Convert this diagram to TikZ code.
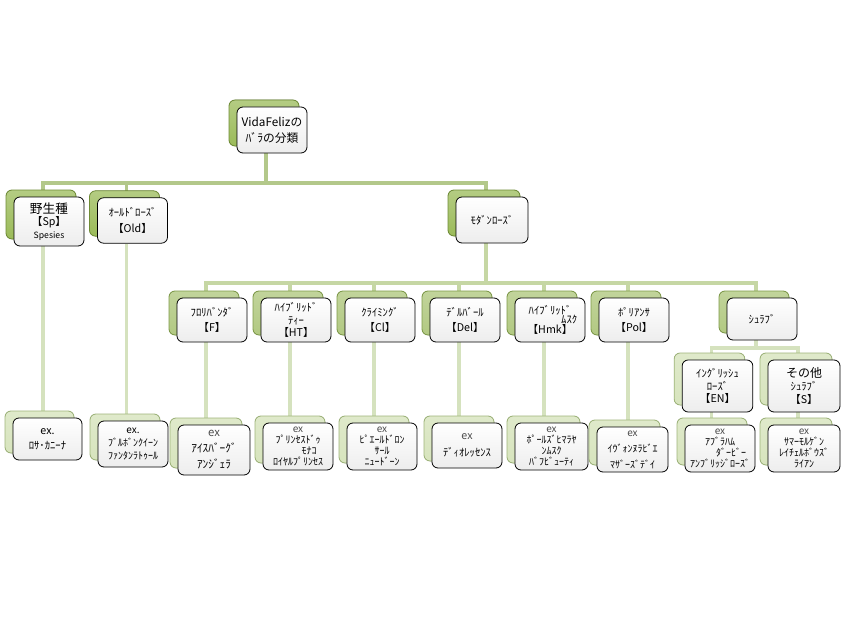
\documentclass[tikz,border=0pt]{standalone}
\usepackage{fontspec}
\setmainfont{Noto Sans CJK JP}
\usepackage{tikz}
\usetikzlibrary{shadows,backgrounds}

\definecolor{oliveA}{HTML}{9BBB59}
\definecolor{oliveAd}{HTML}{6F8C36}
\definecolor{oliveB}{HTML}{B2C982}
\definecolor{oliveBd}{HTML}{7E9A48}
\definecolor{oliveC}{HTML}{D7E4BD}
\definecolor{oliveCd}{HTML}{9FB57A}
\definecolor{linkA}{HTML}{B3C88A}
\definecolor{linkB}{HTML}{C6D7A4}
\definecolor{linkC}{HTML}{D5E2BE}

\tikzset{
  rosebox/.style={draw=black, line width=0.6pt, rounded corners=4.5pt,
    top color=white, bottom color=black!7, minimum width=52.5pt,
    minimum height=33pt, inner sep=1pt, align=center, text=black,
    font=\fontsize{8}{9.5}\selectfont},
  tierA/.style={rosebox, copy shadow={shadow xshift=-6pt, shadow yshift=5.25pt,
    draw=oliveAd, top color=oliveA!75, bottom color=oliveA, line width=0.6pt}},
  tierB/.style={rosebox, copy shadow={shadow xshift=-6pt, shadow yshift=5.25pt,
    draw=oliveBd, top color=oliveB!80, bottom color=oliveB, line width=0.6pt}},
  tierC/.style={rosebox, copy shadow={shadow xshift=-6pt, shadow yshift=5.25pt,
    draw=oliveCd, top color=oliveC!80, bottom color=oliveC, line width=0.6pt}},
  exbox/.style={tierC, font=\fontsize{7.5}{8.4}\selectfont},
  linkline/.style={line width=2.4pt},
}
\newcommand{\exmark}{{\color{black!70}ex}}

\begin{document}
\begin{tikzpicture}[x=0.75pt, y=-0.75pt]
  \useasboundingbox (0,0) rectangle (843,635);

  % root
  \node[tierA, minimum height=34.5pt, font=\fontsize{8.8}{12}\selectfont] (root) at (272,130) {VidaFelizの\\ﾊﾞﾗの分類};

  % first level
  \node[tierA, minimum height=36.75pt] (sp) at (49,221.5)
    {{\fontsize{9.5}{11}\selectfont 野生種}\\【Sp】\\{\fontsize{6.5}{7.5}\selectfont Spesies}};
  \node[tierA, minimum height=34pt] (old) at (132.5,220.5) {ｵｰﾙﾄﾞﾛｰｽﾞ\\[2pt]【Old】};
  \node[tierA, minimum width=54pt, minimum height=34.5pt] (modern) at (492,220) {ﾓﾀﾞﾝﾛｰｽﾞ};

  % second level
  \node[tierB] (flo) at (212,320) {ﾌﾛﾘﾊﾞﾝﾀﾞ\\[2pt]【F】};
  \node[tierB] (ht) at (296,320) {ﾊｲﾌﾞﾘｯﾄﾞ\\ﾃｨｰ\\【HT】};
  \node[tierB] (cl) at (380,320) {ｸﾗｲﾐﾝｸﾞ\\[2pt]【Cl】};
  \node[tierB] (del) at (465,320) {ﾃﾞﾙﾊﾞｰﾙ\\[2pt]【Del】};
  \node[tierB] (hmk) at (550,320) {ﾊｲﾌﾞﾘｯﾄﾞ\\[-3pt]\hspace*{3.6em}ﾑｽｸ\\[-2pt]【Hmk】};
  \node[tierB] (pol) at (634,320) {ﾎﾟﾘｱﾝｻ\\[2pt]【Pol】};
  \node[tierB, minimum height=31.5pt] (shrub) at (762,319) {ｼｭﾗﾌﾞ};

  % shrub children
  \node[tierC, minimum width=53pt, minimum height=39pt] (eng) at (717.5,386) {ｲﾝｸﾞﾘｯｼｭ\\ﾛｰｽﾞ\\【EN】};
  \node[tierC, minimum width=54pt, minimum height=39pt] (other) at (804,386)
    {{\fontsize{9}{10}\selectfont その他}\\ｼｭﾗﾌﾞ\\【S】};

  % examples
  \node[exbox, minimum width=51.75pt, minimum height=31.5pt, font=\fontsize{8}{11}\selectfont] (rosa) at (47.5,439) {ex.\\ﾛｻ･ｶﾆｰﾅ};
  \node[exbox, minimum height=34.5pt, font=\fontsize{7.5}{10}\selectfont] (bour) at (133,444) {ex.\\ﾌﾞﾙﾎﾞﾝｸｲｰﾝ\\ﾌｧﾝﾀﾝﾗﾄｩｰﾙ};
  \node[exbox, minimum width=54pt, minimum height=37.5pt, font=\fontsize{8.5}{12}\selectfont] (ice) at (214,450) {\exmark\\ｱｲｽﾊﾞｰｸﾞ\\ｱﾝｼﾞｪﾗ};
  \node[exbox, minimum height=35.25pt] (prin) at (298,446.5) {\exmark\\ﾌﾟﾘﾝｾｽﾄﾞｩ\\\hspace*{2.2em}ﾓﾅｺ\\ﾛｲﾔﾙﾌﾟﾘﾝｾｽ};
  \node[exbox, minimum height=35.25pt] (pierre) at (382,446.5) {\exmark\\ﾋﾟｴｰﾙﾄﾞﾛﾝ\\ｻｰﾙ\\ﾆｭｰﾄﾞｰﾝ};
  \node[exbox, minimum height=33.75pt, font=\fontsize{8}{11}\selectfont] (dio) at (467,445.5) {\exmark\\[2pt]ﾃﾞｨｵﾚｯｾﾝｽ};
  \node[exbox, minimum width=54.75pt, minimum height=35.25pt] (paul) at (551.5,446.5) {\exmark\\ﾎﾟｰﾙｽﾞﾋﾏﾗﾔ\\ﾝﾑｽｸ\\ﾊﾞﾌﾋﾞｭｰﾃｨ};
  \node[exbox, minimum width=53.25pt, minimum height=33.75pt, font=\fontsize{7.5}{12}\selectfont] (yvon) at (632.5,449.5) {\exmark\\ｲｳﾞｫﾝﾇﾗﾋﾞｴ\\ﾏｻﾞｰｽﾞﾃﾞｲ};
  \node[exbox, minimum height=35.25pt] (abr) at (720,448.5) {\exmark\\ｱﾌﾞﾗﾊﾑ\\\hspace*{2.2em}ﾀﾞｰﾋﾞｰ\\ｱﾝﾌﾞﾘｯｼﾞﾛｰｽﾞ};
  \node[exbox, minimum width=54pt, minimum height=35.25pt] (summ) at (804,448.5) {\exmark\\ｻﾏｰﾓﾙｹﾞﾝ\\ﾚｲﾁｪﾙﾎﾞｳｽﾞ\\ﾗｲｱﾝ};

  % connectors
  \begin{scope}[on background layer]
    \fill[white] (0,0) rectangle (843,635);
    \coordinate (busA) at (0,183);
    \coordinate (busB) at (0,283);
    \coordinate (busC) at (0,348);
    \foreach \c in {sp,old,modern}
      \draw[linkline, linkA] ([xshift=-4.5pt]root.south) -- ([xshift=-4.5pt]root.south |- busA)
        -| ([xshift=-4.5pt]\c.north);
    \foreach \c in {flo,ht,cl,del,hmk,pol,shrub}
      \draw[linkline, linkB] ([xshift=-4.5pt]modern.south) -- ([xshift=-4.5pt]modern.south |- busB)
        -| ([xshift=-4.5pt]\c.north);
    \foreach \c in {eng,other}
      \draw[linkline, linkC] ([xshift=-4.5pt]shrub.south) -- ([xshift=-4.5pt]shrub.south |- busC)
        -| ([xshift=-4.5pt]\c.north);
    \foreach \a/\b in {sp/rosa,old/bour,flo/ice,ht/prin,cl/pierre,del/dio,hmk/paul,pol/yvon,eng/abr,other/summ}
      \draw[linkline, linkC] ([xshift=-4.5pt]\a.south) -- ([xshift=-4.5pt]\a.south |- \b.north);
  \end{scope}
\end{tikzpicture}
\end{document}
